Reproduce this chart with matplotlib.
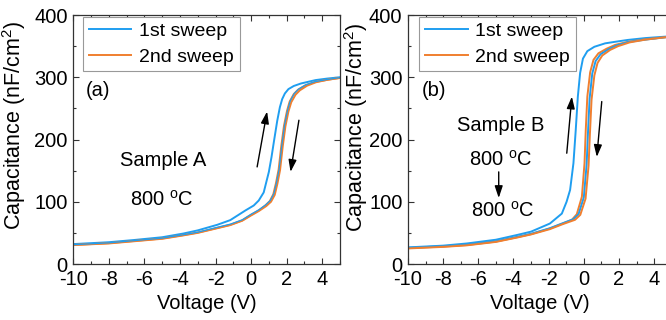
import matplotlib
matplotlib.use("Agg")
import matplotlib.pyplot as plt
from matplotlib.ticker import MultipleLocator

plt.rcParams['font.family'] = ['Liberation Sans', 'DejaVu Sans']
plt.rcParams['mathtext.fontset'] = 'custom'
plt.rcParams['mathtext.rm'] = 'Liberation Sans'
plt.rcParams['mathtext.it'] = 'Liberation Sans:italic'
plt.rcParams['axes.unicode_minus'] = False
plt.rcParams['font.size'] = 14.5

BLUE = '#1f9ef0'
ORANGE = '#f07f2f'

# ---- panel (a), Sample A ----
a_blue1_v = [-10, -8, -6.6, -5, -3.8, -3, -1.9, -1.17, -0.32, 0.15, 0.43, 0.71, 1.0,
             1.15, 1.28, 1.47, 1.62, 1.75, 1.9, 2.1, 2.4, 2.8, 3.63, 4.3, 5.0]
a_blue1_c = [32, 35, 38.5, 43, 49, 54, 63, 70.5, 86, 94, 102, 115, 148,
             172, 196, 230, 252, 265, 274, 281, 286, 290, 295.5, 298, 300]

a_orange1_v = [-10, -8, -6.6, -5, -3.8, -3, -1.9, -1.17, -0.5, 0, 0.43, 0.8, 1.05,
               1.25, 1.4, 1.55, 1.7, 1.85, 2.02, 2.17, 2.4, 2.64, 3.05, 3.6, 4.3, 5.0]
a_orange1_c = [30.5, 33.5, 37, 41, 46.5, 50.5, 58, 63, 70, 79, 86, 94, 101,
               112, 130, 152, 190, 222, 246, 261, 273, 280, 287, 292.5, 296, 299]

a_blue2_v = [-10, -8, -6.6, -5, -3.8, -3, -1.9, -1.17, -0.5, 0, 0.43, 0.82, 1.08,
             1.28, 1.43, 1.58, 1.73, 1.88, 2.05, 2.2, 2.43, 2.67, 3.08, 3.6, 4.3, 5.0]
a_blue2_c = [31, 34, 37.5, 41.5, 47, 51, 59, 64, 71, 80, 87, 95, 102,
             113, 131, 153, 191, 223, 247, 262, 274, 281, 288, 293, 296.5, 299.5]

a_orange2_v = [-10, -8, -6.6, -5, -3.8, -3, -1.9, -1.17, -0.5, 0, 0.43, 0.85, 1.12,
               1.33, 1.48, 1.63, 1.78, 1.93, 2.1, 2.26, 2.5, 2.74, 3.15, 3.65, 4.3, 5.0]
a_orange2_c = [30.5, 33, 36.5, 40.5, 46, 50, 57.5, 62.5, 69.5, 78, 85, 93, 100,
               111, 129, 151, 189, 221, 245, 260, 272, 279, 286.5, 292, 296, 299]

# ---- panel (b), Sample B ----
b_blue1_v = [-10, -8, -6.65, -5, -3.8, -3, -1.93, -1.25, -0.98, -0.78, -0.59, -0.46,
             -0.34, -0.21, -0.05, 0.2, 0.6, 1.21, 1.78, 2.5, 3.5, 5.0]
b_blue1_c = [26.7, 29.5, 33, 39, 46.6, 52, 65, 81, 100, 119, 162, 215,
             269, 307, 330, 342, 349, 354.5, 357, 360, 363, 366]

b_orange1_v = [-10, -8, -6.65, -5, -3.8, -3, -1.93, -1.2, -0.68, -0.4, -0.11, 0.04,
               0.11, 0.2, 0.36, 0.55, 0.83, 1.3, 1.78, 2.5, 3.5, 5.0]
b_orange1_c = [25.5, 28, 30.5, 36, 43, 48, 57, 65, 71, 80, 108, 162,
               215, 269, 308, 328, 338.5, 346, 352, 357, 361, 365.5]

b_blue2_v = [-10, -8, -6.65, -5, -3.8, -3, -1.93, -1.2, -0.6, -0.3, 0.0, 0.16,
             0.24, 0.33, 0.48, 0.67, 0.95, 1.4, 1.85, 2.5, 3.5, 5.0]
b_blue2_c = [26, 28.5, 31, 36.5, 43.5, 48.5, 57.5, 65.5, 72, 80, 107, 160,
             213, 266, 306, 326, 337, 345, 351, 356.5, 360.5, 365.5]

b_orange2_v = [-10, -8, -6.65, -5, -3.8, -3, -1.93, -1.2, -0.5, -0.2, 0.1, 0.27,
               0.35, 0.44, 0.6, 0.78, 1.05, 1.5, 1.95, 2.6, 3.5, 5.0]
b_orange2_c = [25, 27.5, 30, 35.5, 42.5, 47.5, 56, 64, 71, 79, 105, 158,
               211, 264, 303, 323, 335, 344, 350, 356, 360.5, 365.5]

fig = plt.figure(figsize=(6.66, 3.2), dpi=100)
ax_a = fig.add_axes([0.110, 0.175, 0.4005, 0.778])
ax_b = fig.add_axes([0.6126, 0.175, 0.396, 0.778])

lw = 1.4
ax_a.plot(a_blue1_v, a_blue1_c, color=BLUE, lw=lw, label='1st sweep')
ax_a.plot(a_orange1_v, a_orange1_c, color=ORANGE, lw=lw, label='2nd sweep')
ax_a.plot(a_orange2_v, a_orange2_c, color=ORANGE, lw=lw)
ax_a.plot(a_blue2_v, a_blue2_c, color=BLUE, lw=0.9)

ax_b.plot(b_blue1_v, b_blue1_c, color=BLUE, lw=lw, label='1st sweep')
ax_b.plot(b_orange1_v, b_orange1_c, color=ORANGE, lw=lw, label='2nd sweep')
ax_b.plot(b_blue2_v, b_blue2_c, color=BLUE, lw=lw)
ax_b.plot(b_orange2_v, b_orange2_c, color=ORANGE, lw=lw)

arrow = dict(arrowstyle='-|>,head_length=0.6,head_width=0.2', color='k', lw=1,
             shrinkA=0, shrinkB=0, mutation_scale=12)

for ax, lx in [(ax_a, 0.036), (ax_b, 0.042)]:
    ax.set_xlim(-10, 5)
    ax.set_ylim(0, 400)
    ax.xaxis.set_major_locator(MultipleLocator(2))
    ax.xaxis.set_minor_locator(MultipleLocator(1))
    ax.yaxis.set_major_locator(MultipleLocator(100))
    ax.yaxis.set_minor_locator(MultipleLocator(50))
    ax.tick_params(which='both', direction='in', top=True, right=True,
                   color='#333333', width=0.8)
    ax.tick_params(which='major', length=4, pad=4)
    ax.tick_params(which='minor', length=2)
    for s in ax.spines.values():
        s.set_color('#333333')
        s.set_linewidth(0.9)
    ax.set_xlabel('Voltage (V)', labelpad=4)
    ax.set_ylabel('Capacitance (nF/cm$^2$)', fontsize=15.5)
    leg = ax.legend(loc='upper left', bbox_to_anchor=(lx, 0.993), borderaxespad=0,
                    fancybox=False, edgecolor='#999999', framealpha=1,
                    handlelength=2.2, handletextpad=0.4, borderpad=0.3,
                    labelspacing=0.4, fontsize=14)
    leg.get_frame().set_linewidth(0.8)

ax_a.yaxis.set_label_coords(-0.17, 0.555)
ax_b.yaxis.set_label_coords(-0.144, 0.55)

# panel (a) texts and arrows
ax_a.text(-8.6, 278, '(a)', ha='center', va='center')
ax_a.text(-4.95, 167, 'Sample A', ha='center', va='center')
ax_a.text(-5.0, 103, '800 $^{\\mathrm{o}}$C', ha='center', va='center')
ax_a.annotate('', xy=(0.9, 245), xytext=(0.34, 156), arrowprops=arrow)
ax_a.annotate('', xy=(2.22, 148), xytext=(2.69, 231), arrowprops=arrow)

# panel (b) texts and arrows
ax_b.text(-8.5, 278, '(b)', ha='center', va='center')
ax_b.text(-4.7, 223, 'Sample B', ha='center', va='center')
ax_b.text(-4.75, 167, '800 $^{\\mathrm{o}}$C', ha='center', va='center')
ax_b.text(-4.6, 86, '800 $^{\\mathrm{o}}$C', ha='center', va='center')
ax_b.annotate('', xy=(-4.84, 106), xytext=(-4.84, 148), arrowprops=arrow)
ax_b.annotate('', xy=(-0.68, 269), xytext=(-0.97, 178), arrowprops=arrow)
ax_b.annotate('', xy=(0.74, 172), xytext=(1.02, 261), arrowprops=arrow)

fig.savefig('out.png', dpi=100)
